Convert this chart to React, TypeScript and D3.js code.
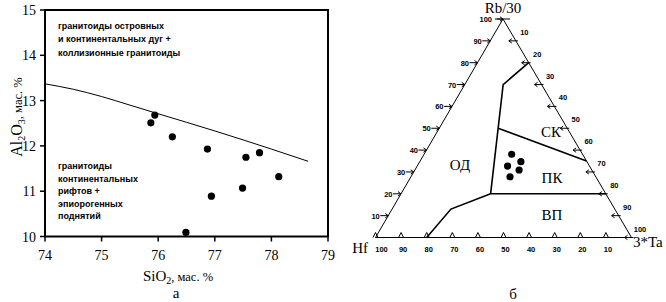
import React from 'react';
import * as d3 from 'd3';

// ---- Panel а: SiO2 vs Al2O3 ----
const xTicks = [74, 75, 76, 77, 78, 79];
const yTicks = [10, 11, 12, 13, 14, 15];
const siO2 = [75.94, 75.87, 76.25, 76.87, 77.55, 77.79, 78.13, 77.49, 76.94, 76.49];
const al2o3 = [12.68, 12.51, 12.2, 11.93, 11.75, 11.85, 11.32, 11.07, 10.89, 10.09];
const boundarySi = [74, 74.5, 75, 75.5, 76, 77, 78, 78.65];
const boundaryAl = [13.37, 13.25, 13.09, 12.9, 12.71, 12.33, 11.93, 11.66];
const upperText = ['гранитоиды островных', 'и континентальных дуг +', 'коллизионные гранитоиды'];
const lowerText = ['гранитоиды', 'континентальных', 'рифтов +', 'эпиорогенных', 'поднятий'];

// ---- Panel б: Hf – Rb/30 – 3*Ta ----
const ternTicks = [10, 20, 30, 40, 50, 60, 70, 80, 90, 100];
const sampleRb = [38.1, 34.7, 32.7, 30.9, 27.8];
const sampleHf = [27.7, 25.8, 32.0, 28.4, 33.5];
const sampleTa = [34.2, 39.5, 35.3, 40.7, 38.7];
// boundaries as [Rb, Hf, Ta]
const boundaryA = [[80, 0, 20], [70, 15, 15], [20, 45, 35]];
const boundaryB = [[50, 27, 23], [35, 0, 65]];
const boundaryC = [[20, 45, 35], [20, 0, 80]];
const boundaryD = [[20, 45, 35], [13, 64, 23], [0, 80, 20]];
const fieldNames = ['СК', 'ОД', 'ПК', 'ВП'];

const serif = "'Liberation Serif', 'Times New Roman', serif";
const sans = "'Liberation Sans', Arial, sans-serif";

export default function App() {
  const x = d3.scaleLinear().domain([74, 79]).range([45, 328]);
  const y = d3.scaleLinear().domain([10, 15]).range([236.5, 10]);
  const line = d3.line<number>().x((_, i) => x(boundarySi[i])).y((d) => y(d)).curve(d3.curveMonotoneX);

  const rbY = d3.scaleLinear().domain([0, 100]).range([237.5, 19]);
  const taX = d3.scaleLinear().domain([0, 100]).range([375.5, 631.5]);
  const rbX = d3.scaleLinear().domain([0, 100]).range([0, 127.5]);
  const P = (rb: number, hf: number, ta: number): [number, number] => {
    const s = rb + hf + ta;
    const r = (rb / s) * 100, t = (ta / s) * 100;
    return [taX(t) + rbX(r), rbY(r)];
  };
  const tline = d3.line<number[]>().x((d) => P(d[0], d[1], d[2])[0]).y((d) => P(d[0], d[1], d[2])[1]);
  const A = P(100, 0, 0), L = P(0, 100, 0), R = P(0, 0, 100);
  const fieldPos: [number, number][] = [[551, 132], [460, 165], [552, 178], [552, 215]];

  return (
    <svg width={666} height={302} style={{ position: 'absolute', left: 0, top: 0, background: '#fff' }}>
      {/* ---- panel а ---- */}
      <rect x={x(74)} y={y(15)} width={x(79) - x(74)} height={y(10) - y(15)} fill="none" stroke="#000" strokeWidth={2} />
      {yTicks.map((t) => (
        <g key={'y' + t}>
          <line x1={x(74) - 5} x2={x(74)} y1={y(t)} y2={y(t)} stroke="#000" strokeWidth={1.5} />
          <text x={36} y={y(t) + 5} textAnchor="end" fontFamily={serif} fontSize={14}>{t}</text>
        </g>
      ))}
      {xTicks.map((t) => (
        <g key={'x' + t}>
          <line x1={x(t)} x2={x(t)} y1={y(10)} y2={y(10) + 5} stroke="#000" strokeWidth={1.5} />
          <text x={x(t)} y={260} textAnchor="middle" fontFamily={serif} fontSize={14}>{t}</text>
        </g>
      ))}
      <path d={line(boundaryAl) || ''} fill="none" stroke="#000" strokeWidth={1} />
      {siO2.map((s, i) => (
        <circle key={'p' + i} cx={x(s)} cy={y(al2o3[i])} r={3.6} fill="#000" />
      ))}
      {upperText.map((t, i) => (
        <text key={'u' + i} x={58} y={28.5 + i * 13.5} fontFamily={sans} fontWeight="bold" fontSize={9}>{t}</text>
      ))}
      {lowerText.map((t, i) => (
        <text key={'l' + i} x={58} y={169 + i * 12.5} fontFamily={sans} fontWeight="bold" fontSize={9}>{t}</text>
      ))}
      <text transform="translate(22,117) rotate(-90)" textAnchor="middle" fontFamily={serif}>
        <tspan fontSize={16}>Al</tspan>
        <tspan fontSize={10} dy={3}>2</tspan>
        <tspan fontSize={16} dy={-3}>O</tspan>
        <tspan fontSize={10} dy={3}>3</tspan>
        <tspan fontSize={12.5} dy={-3}>, мас. %</tspan>
      </text>
      <text x={178} y={281} textAnchor="middle" fontFamily={serif}>
        <tspan fontSize={15}>SiO</tspan>
        <tspan fontSize={10} dy={3}>2</tspan>
        <tspan fontSize={12.5} dy={-3}>, мас. %</tspan>
      </text>
      <text x={176} y={298} textAnchor="middle" fontFamily={serif} fontSize={15}>а</text>

      {/* ---- panel б ---- */}
      <path d={`M${A[0]},${A[1]}L${L[0]},${L[1]}L${R[0]},${R[1]}Z`} fill="none" stroke="#000" strokeWidth={1} />
      {ternTicks.map((v) => {
        const [lx, ly] = P(v, 100 - v, 0);
        const [rx, ry] = P(100 - v, 0, v);
        const [bx, by] = P(0, v, 100 - v);
        return (
          <g key={'t' + v}>
            <path d={`M${lx - 8},${ly}L${lx},${ly}M${lx - 3},${ly - 2.2}L${lx},${ly}L${lx - 3},${ly + 2.2}`} fill="none" stroke="#000" strokeWidth={1} />
            <text x={lx - (v === 100 ? 11 : 8.5)} y={ly + 3} textAnchor="end" fontFamily={sans} fontWeight="bold" fontSize={7.5}>{v}</text>
            <path d={`M${rx - 7},${ry}L${rx + 2},${ry}M${rx - 4},${ry - 2.2}L${rx - 7},${ry}L${rx - 4},${ry + 2.2}`} fill="none" stroke="#000" strokeWidth={1} />
            <text x={rx + 8.5} y={ry - 6} textAnchor="middle" fontFamily={sans} fontWeight="bold" fontSize={7.5}>{v}</text>
            <path d={`M${bx - 2.5},${by}L${bx},${by - 5}L${bx + 2.5},${by}`} fill="none" stroke="#000" strokeWidth={1} />
            <text x={bx + (v === 100 ? 6 : 2)} y={by + 14} textAnchor="middle" fontFamily={sans} fontWeight="bold" fontSize={7.5}>{v}</text>
          </g>
        );
      })}
      <line x1={A[0] - 6} x2={A[0] + 7} y1={A[1]} y2={A[1]} stroke="#000" strokeWidth={1} />
      {[boundaryA, boundaryB, boundaryC, boundaryD].map((b, i) => (
        <path key={'b' + i} d={tline(b) || ''} fill="none" stroke="#000" strokeWidth={1.6} />
      ))}
      {sampleRb.map((r, i) => {
        const [px, py] = P(r, sampleHf[i], sampleTa[i]);
        return <circle key={'s' + i} cx={px} cy={py} r={3.6} fill="#000" />;
      })}
      {fieldNames.map((n, i) => (
        <text key={'f' + i} x={fieldPos[i][0]} y={fieldPos[i][1] + 5} textAnchor="middle" fontFamily={serif} fontSize={15}>{n}</text>
      ))}
      <text x={503} y={13} textAnchor="middle" fontFamily={serif} fontSize={15}>Rb/30</text>
      <text x={368} y={253} textAnchor="end" fontFamily={serif} fontSize={15}>Hf</text>
      <text x={633} y={247} fontFamily={serif} fontSize={15}>3*Ta</text>
      <text x={513} y={299} textAnchor="middle" fontFamily={serif} fontSize={15}>б</text>
    </svg>
  );
}
